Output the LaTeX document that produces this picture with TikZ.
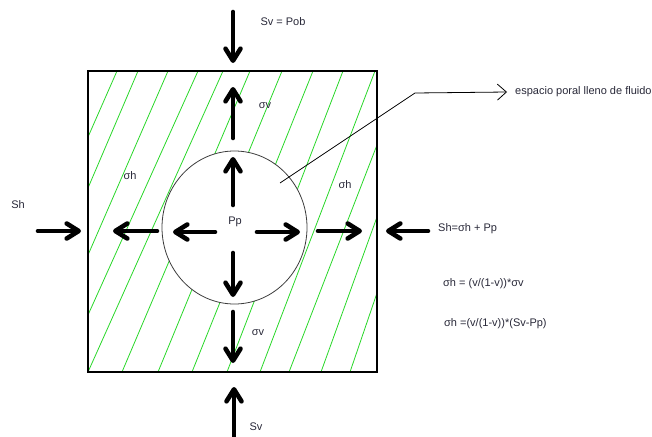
\documentclass[tikz,border=0pt]{standalone}
\usepackage{fontspec}
\setmainfont{Liberation Sans}
\usetikzlibrary{arrows.meta,shapes.geometric}
\definecolor{hatch}{RGB}{40,215,40}
\definecolor{ink}{RGB}{40,40,56}
\begin{document}
\begin{tikzpicture}[x=1pt,y=-1pt,
  force/.style={line width=4.6pt, line cap=round, -{Straight Barb[length=12pt,width=15pt,round]}},
  lbl/.style={text=ink, font=\fontsize{11}{13}\selectfont, inner sep=0pt},
  leader/.style={line width=0.8pt, -{Straight Barb[length=9pt,width=16pt]}}]
\useasboundingbox (0,0) rectangle (652,436);

% green hand-drawn hatching of the rock matrix, kept out of the pore
\begin{scope}[even odd rule]
  \clip (88,71) rectangle (377,372)
        (234.5,227.5) ellipse [x radius=72.5pt, y radius=76.5pt];
  \foreach \xa/\ya/\xb/\yb in {
      117/71/88/137, 138/71/88/188, 168/71/88/255, 198/71/88/315,
      223/71/88/372, 250/71/122/372, 282/71/158/372, 313/71/192/372,
      343/71/227/372, 375/71/260/372, 377/145/289/372, 377/217/321/372,
      377/293/350/372}{
    \draw[hatch, line width=0.8pt] (\xa,\ya) -- (\xb,\yb);
  }
\end{scope}

% rock block and pore
\node[draw=black, line width=1.2pt, minimum width=289pt, minimum height=301pt, inner sep=0pt] (block) at (232.5,221.5) {};
\node[ellipse, draw={rgb,255:red,60;green,60;blue,60}, line width=0.8pt, minimum width=145pt, minimum height=153pt, inner sep=0pt] (pore) at (234.5,227.5) {};

% labels
\node[lbl] (svpob) at (283,22) {Sv = Pob};
\node[lbl] (sigvtop) at (265,106) {σv};
\node[lbl] (sighleft) at (130,176) {σh};
\node[lbl] (sighright) at (345,185) {σh};
\node[lbl] (shleft) at (18,205) {Sh};
\node[lbl] (pp) at (235,222) {Pp};
\node[lbl, anchor=west] (shright) at (438,229) {Sh=σh + Pp};
\node[lbl, anchor=west] (eqone) at (443,284) {σh = (v/(1-v))*σv};
\node[lbl, anchor=west] (eqtwo) at (444,324) {σh =(v/(1-v))*(Sv-Pp)};
\node[lbl] (sigvbot) at (258,333) {σv};
\node[lbl] (svbot) at (256,427) {Sv};
\node[lbl, anchor=west] (porelbl) at (515,92) {espacio poral lleno de fluido};

% end points of the force arrows
\coordinate (a1s) at (233,12);  \coordinate (a1e) at (233,63);
\coordinate (a2s) at (233,138); \coordinate (a2e) at (233,87);
\coordinate (a3s) at (233,205); \coordinate (a3e) at (233,157);
\coordinate (a4s) at (233,253); \coordinate (a4e) at (233,297);
\coordinate (a5s) at (215,232); \coordinate (a5e) at (173,232);
\coordinate (a6s) at (257,232); \coordinate (a6e) at (300,232);
\coordinate (a7s) at (157,231); \coordinate (a7e) at (113,231);
\coordinate (a8s) at (38,231);  \coordinate (a8e) at (81,231);
\coordinate (a9s) at (318,231); \coordinate (a9e) at (362,231);
\coordinate (a10s) at (428,231); \coordinate (a10e) at (386,231);
\coordinate (a11s) at (233,312); \coordinate (a11e) at (233,363);
\coordinate (a12s) at (234,440); \coordinate (a12e) at (234,387);

% stresses
\foreach \k in {1,...,12}{
  \draw[force] (a\k s) -- (a\k e);
}

% leader to the pore
\coordinate (ldstart) at (280,183);
\coordinate (ldbend) at (415,93);
\coordinate (ldend) at ([xshift=-8pt]porelbl.west);
\draw[leader] (ldstart) -- (ldbend) -- (ldend);
\end{tikzpicture}
\end{document}
